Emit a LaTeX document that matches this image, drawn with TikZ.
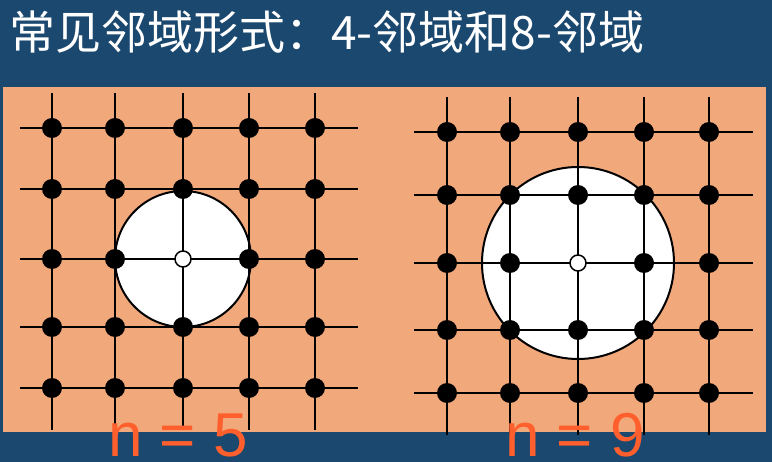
\documentclass[tikz,border=0pt]{standalone}
\usepackage{fontspec}
\setmainfont{Liberation Sans}
\newfontfamily\cjk{Noto Sans CJK SC}
\definecolor{bgblue}{RGB}{27,72,110}
\definecolor{panel}{RGB}{241,168,122}
\definecolor{labelred}{RGB}{255,95,45}
\tikzset{
    dot/.style={circle, fill=black, inner sep=0pt, minimum size=20pt},
    hole/.style={circle, draw=black, fill=white, line width=1.5pt, inner sep=0pt, minimum size=16pt},
    gridline/.style={line width=2pt},
    disk/.style={circle, draw=black, fill=white, line width=2pt, inner sep=0pt},
    nlabel/.style={text=labelred, font=\fontsize{62}{62}\selectfont, anchor=base, inner sep=0pt}
}
\begin{document}
\begin{tikzpicture}[x=1pt, y=-1pt]
    % Nền
    \fill[bgblue] (0,0) rectangle (772,462);
    \useasboundingbox (0,0) rectangle (772,462);
    \fill[panel] (3,87) rectangle (766,432);
    \node[anchor=base west, text=white, inner sep=0pt, font=\cjk\fontsize{46}{46}\selectfont] (title) at (9,50) {常见邻域形式：4-邻域和8-邻域};

    % 4-邻域, n = 5
    \node[disk, minimum size=136pt] (L-disk) at (183,259) {};
    \foreach \y [count=\j] in {128,189,259,327,388} {
        \coordinate (L-w\j) at (20,\y);
        \coordinate (L-e\j) at (358,\y);
        \draw[gridline] (L-w\j) -- (L-e\j);
    }
    \foreach \x [count=\i] in {52,115,183,249,315} {
        \coordinate (L-n\i) at (\x,93);
        \coordinate (L-s\i) at (\x,430);
        \draw[gridline] (L-n\i) -- (L-s\i);
    }
    \foreach \x [count=\i] in {52,115,183,249,315} {
        \foreach \y [count=\j] in {128,189,259,327,388} {
            \ifnum\i\j=33 \else \node[dot] (L-\i-\j) at (\x,\y) {}; \fi
        }
    }
    \node[hole] (L-3-3) at (183,259) {};
    \node[nlabel] (L-label) at (178,457) {n = 5};

    % 8-邻域, n = 9
    \node[disk, minimum size=192pt] (R-disk) at (578,263) {};
    \foreach \y [count=\j] in {132,195,263,330,393} {
        \coordinate (R-w\j) at (414,\y);
        \coordinate (R-e\j) at (753,\y);
        \draw[gridline] (R-w\j) -- (R-e\j);
    }
    \foreach \x [count=\i] in {447,510,578,644,709} {
        \coordinate (R-n\i) at (\x,97);
        \coordinate (R-s\i) at (\x,435);
        \draw[gridline] (R-n\i) -- (R-s\i);
    }
    \foreach \x [count=\i] in {447,510,578,644,709} {
        \foreach \y [count=\j] in {132,195,263,330,393} {
            \ifnum\i\j=33 \else \node[dot] (R-\i-\j) at (\x,\y) {}; \fi
        }
    }
    \node[hole] (R-3-3) at (578,263) {};
    \node[nlabel] (R-label) at (575,457) {n = 9};
\end{tikzpicture}
\end{document}
